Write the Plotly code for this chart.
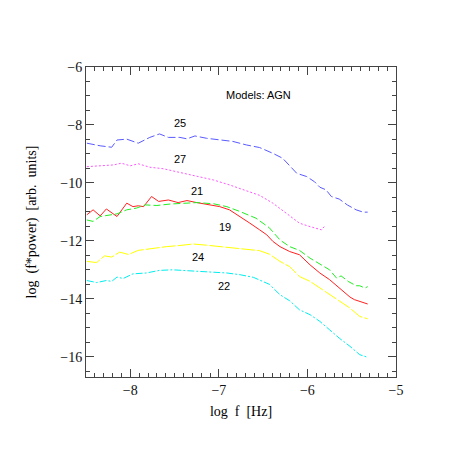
import plotly.graph_objects as go

# Series data (log f [Hz], log(f*power))
x25 = [-8.49, -8.34, -8.21, -8.15, -8.04, -7.91, -7.78, -7.67, -7.57, -7.44, -7.36, -7.27, -7.14, -6.99, -6.84, -6.69, -6.54, -6.39, -6.28, -6.12, -6.01, -5.92, -5.86, -5.79, -5.73, -5.64, -5.55, -5.45, -5.37, -5.32]
y25 = [-8.63, -8.72, -8.77, -8.52, -8.49, -8.63, -8.43, -8.31, -8.43, -8.43, -8.48, -8.38, -8.46, -8.52, -8.57, -8.69, -8.78, -8.98, -9.15, -9.67, -9.78, -9.96, -10.15, -10.24, -10.47, -10.56, -10.76, -10.93, -11.01, -11.01]

x27 = [-8.49, -8.34, -8.19, -8.10, -8.00, -7.91, -7.78, -7.63, -7.44, -7.25, -7.06, -6.88, -6.69, -6.54, -6.39, -6.24, -6.09, -5.97, -5.84, -5.81]
y27 = [-9.44, -9.41, -9.38, -9.32, -9.41, -9.34, -9.46, -9.51, -9.64, -9.78, -9.90, -10.07, -10.26, -10.43, -10.70, -11.04, -11.39, -11.51, -11.62, -11.51]

x21 = [-8.49, -8.42, -8.34, -8.27, -8.15, -8.04, -7.97, -7.91, -7.85, -7.76, -7.68, -7.57, -7.46, -7.36, -7.25, -7.10, -6.99, -6.88, -6.76, -6.65, -6.54, -6.46, -6.39, -6.31, -6.20, -6.09, -5.97, -5.86, -5.75, -5.64, -5.56, -5.52, -5.47, -5.41, -5.32]
y21 = [-11.10, -10.93, -11.14, -10.90, -11.16, -10.70, -10.82, -10.79, -10.82, -10.47, -10.64, -10.59, -10.68, -10.61, -10.68, -10.76, -10.82, -10.93, -11.16, -11.39, -11.62, -11.79, -12.02, -12.20, -12.37, -12.48, -12.83, -13.11, -13.34, -13.63, -13.86, -13.94, -14.03, -14.09, -14.18]

x19 = [-8.49, -8.42, -8.34, -8.23, -8.15, -8.04, -7.93, -7.83, -7.70, -7.55, -7.40, -7.25, -7.06, -6.91, -6.76, -6.58, -6.43, -6.31, -6.20, -6.09, -5.97, -5.86, -5.75, -5.67, -5.62, -5.54, -5.45, -5.41, -5.35, -5.32]
y19 = [-11.28, -11.33, -11.16, -11.10, -11.07, -10.93, -10.87, -10.76, -10.78, -10.73, -10.70, -10.68, -10.72, -10.82, -10.99, -11.22, -11.55, -11.97, -12.20, -12.33, -12.60, -12.80, -13.00, -13.29, -13.21, -13.40, -13.55, -13.55, -13.63, -13.58]

x24 = [-8.49, -8.38, -8.29, -8.21, -8.12, -8.02, -7.91, -7.74, -7.59, -7.44, -7.29, -7.14, -6.99, -6.84, -6.69, -6.54, -6.43, -6.31, -6.20, -6.09, -5.97, -5.86, -5.75, -5.64, -5.52, -5.41, -5.32]
y24 = [-12.71, -12.75, -12.52, -12.56, -12.39, -12.47, -12.33, -12.25, -12.20, -12.16, -12.11, -12.15, -12.20, -12.23, -12.29, -12.34, -12.46, -12.71, -12.89, -13.23, -13.40, -13.63, -13.86, -14.09, -14.32, -14.61, -14.69]

x22 = [-8.49, -8.38, -8.27, -8.21, -8.15, -8.08, -7.97, -7.82, -7.67, -7.52, -7.36, -7.21, -7.06, -6.91, -6.76, -6.61, -6.43, -6.31, -6.20, -6.09, -5.97, -5.86, -5.75, -5.64, -5.52, -5.41, -5.32]
y22 = [-13.37, -13.44, -13.37, -13.40, -13.25, -13.30, -13.14, -13.11, -13.02, -13.00, -13.03, -13.06, -13.08, -13.11, -13.17, -13.26, -13.50, -13.86, -14.07, -14.38, -14.55, -14.78, -15.07, -15.36, -15.64, -15.93, -16.02]

series = [
    ("25", x25, y25, "#5a5aff", "8px,3px"),
    ("27", x27, y27, "#ff55ff", "2px,2px"),
    ("21", x21, y21, "#ff2020", "solid"),
    ("19", x19, y19, "#22ee22", "7px,3px"),
    ("24", x24, y24, "#ffff00", "14px,2px"),
    ("22", x22, y22, "#00eeee", "7px,2px,2px,2px"),
]

fig = go.Figure()
for name, xs, ys, col, dash in series:
    fig.add_trace(go.Scatter(x=xs, y=ys, mode="lines", name=name,
                             line=dict(color=col, width=1, dash=dash),
                             showlegend=False))

labels = [("25", -7.44, -7.93), ("27", -7.44, -9.17), ("21", -7.25, -10.28),
          ("19", -6.93, -11.52), ("24", -7.24, -12.55), ("22", -6.94, -13.55)]
for t, ax, ay in labels:
    fig.add_annotation(x=ax, y=ay, text=t, showarrow=False,
                       font=dict(family="Liberation Sans, Arial", size=11, color="black"))
fig.add_annotation(x=-6.55, y=-6.97, text="Models: AGN", showarrow=False,
                   font=dict(family="Liberation Sans, Arial", size=11, color="black"))

serif = "Liberation Serif, Times New Roman, serif"
axis_common = dict(showgrid=False, zeroline=False, showline=True, linecolor="#444",
                   linewidth=1, mirror="ticks", ticks="inside", ticklen=8,
                   tickcolor="#444", tickwidth=1,
                   tickfont=dict(family=serif, size=14, color="#111"))

fig.update_xaxes(range=[-8.5, -5], tick0=-8, dtick=1,
                 minor=dict(ticks="inside", dtick=0.1, ticklen=4, tickcolor="#444"),
                 title=dict(text="log  f  [Hz]", standoff=9,
                            font=dict(family=serif, size=14, color="black")),
                 **axis_common)
fig.update_yaxes(range=[-16.7, -6], tick0=-6, dtick=2,
                 minor=dict(ticks="inside", dtick=0.5, ticklen=4, tickcolor="#444"),
                 title=dict(text="log  (f*power)  [arb.  units]", standoff=20,
                            font=dict(family=serif, size=14, color="black")),
                 **axis_common)

fig.update_layout(width=463, height=463, margin=dict(l=78, r=75, t=59, b=94),
                  plot_bgcolor="white", paper_bgcolor="white")

fig.write_html("out.html")
